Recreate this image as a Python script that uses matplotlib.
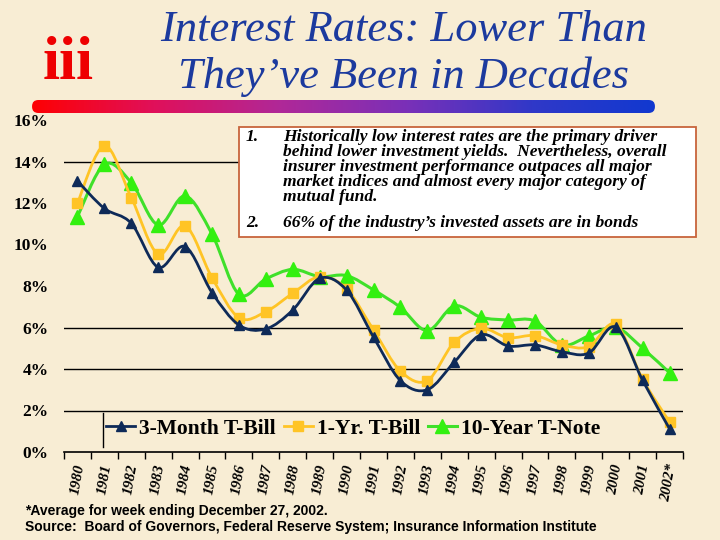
import numpy as np
import matplotlib
matplotlib.use("Agg")
import matplotlib.pyplot as plt
from matplotlib.path import Path
from matplotlib.patches import PathPatch, FancyBboxPatch, Rectangle
from matplotlib.lines import Line2D
from matplotlib.colors import LinearSegmentedColormap

years = ["1980", "1981", "1982", "1983", "1984", "1985", "1986", "1987", "1988",
         "1989", "1990", "1991", "1992", "1993", "1994", "1995", "1996", "1997",
         "1998", "1999", "2000", "2001", "2002*"]

t_bill_3m = [13.06, 11.74, 11.02, 8.90, 9.90, 7.68, 6.12, 5.93, 6.84, 8.37, 7.80,
             5.54, 3.44, 3.00, 4.33, 5.65, 5.11, 5.16, 4.83, 4.77, 6.02, 3.45, 1.12]
t_bill_1y = [12.00, 14.76, 12.26, 9.54, 10.90, 8.40, 6.47, 6.76, 7.65, 8.45, 7.86,
             5.88, 3.90, 3.44, 5.29, 5.96, 5.51, 5.61, 5.16, 5.08, 6.15, 3.50, 1.45]
t_note_10y = [11.34, 13.86, 12.98, 10.94, 12.34, 10.50, 7.60, 8.34, 8.80, 8.45, 8.50,
              7.81, 6.97, 5.85, 7.04, 6.49, 6.36, 6.31, 5.16, 5.59, 6.01, 5.00, 3.82]

series_names = ["3-Month T-Bill", "1-Yr. T-Bill", "10-Year T-Note"]
y_ticks = [0, 2, 4, 6, 8, 10, 12, 14, 16]
grid_levels = [2, 4, 6, 14]

note_lines_1 = ["Historically low interest rates are the primary driver",
                "behind lower investment yields.  Nevertheless, overall",
                "insurer investment performance outpaces all major",
                "market indices and almost every major category of",
                "mutual fund."]
note_line_2 = "66% of the industry\u2019s invested assets are in bonds"

BG = "#F8EDD4"
NAVY = "#0E2A58"
GOLD = "#FFC425"
GREEN = "#3FE02A"
GREEN_M = "#33F010"

fig = plt.figure(figsize=(7.2, 5.4), dpi=100, facecolor=BG)

W, H = 720.0, 540.0
def fx(px):
    return px / W
def fy(py):
    return 1 - py / H

ax = fig.add_axes([fx(64), fy(452), fx(683) - fx(64), fy(120) - fy(452)])
ax.set_facecolor("none")
ax.set_xlim(-0.5, len(years) - 0.5)
ax.set_ylim(0, 16)

for g in grid_levels:
    ax.axhline(g, color="black", lw=1.0, zorder=1)

def smooth_path(xs, ys):
    pts = np.column_stack([xs, ys]).astype(float)
    n = len(pts)
    verts = [pts[0]]
    codes = [Path.MOVETO]
    for i in range(n - 1):
        p0 = pts[i - 1] if i > 0 else pts[i]
        p1 = pts[i]
        p2 = pts[i + 1]
        p3 = pts[i + 2] if i + 2 < n else pts[i + 1]
        c1 = p1 + (p2 - p0) / 6.0
        c2 = p2 - (p3 - p1) / 6.0
        verts += [c1, c2, p2]
        codes += [Path.CURVE4] * 3
    return Path(verts, codes)

x = np.arange(len(years))
specs = [
    (t_bill_3m, NAVY, NAVY, "^", 7, 2.0, 5),
    (t_bill_1y, GOLD, GOLD, "s", 7, 2.0, 4),
    (t_note_10y, GREEN, GREEN_M, "^", 10, 2.2, 3),
]
handles = []
for (vals, lc, mc, mk, ms, lw, z), name in zip(specs, series_names):
    patch = PathPatch(smooth_path(x, vals), facecolor="none", edgecolor=lc,
                      lw=lw, transform=ax.transData, zorder=z)
    ax.add_patch(patch)
    ax.plot(x, vals, linestyle="none", marker=mk, ms=ms, color=mc,
            markeredgecolor=mc, zorder=z + 0.5)
    handles.append(Line2D([0], [0], color=lc, lw=lw, marker=mk, ms=ms,
                          markerfacecolor=mc, markeredgecolor=mc))

# axes styling
for s in ["top", "right", "left"]:
    ax.spines[s].set_visible(False)
ax.spines["bottom"].set_color("black")
ax.spines["bottom"].set_linewidth(1.2)
ax.set_yticks(y_ticks)
ax.set_yticklabels([f"{v}%" for v in y_ticks], fontfamily="Liberation Serif",
                   fontweight="bold", fontsize=12.5)
ax.tick_params(axis="y", length=0, pad=11)
ax.set_xticks(list(x - 0.5) + [len(years) - 0.5])
ax.set_xticklabels([""] * (len(years) + 1))
ax.tick_params(axis="x", length=5, width=1, direction="out", color="black")
ax.set_xticks(x, minor=True)
ax.set_xticklabels(years, minor=True, rotation=80, fontfamily="Liberation Serif",
                   fontstyle="italic", fontweight="bold", fontsize=11)
ax.tick_params(axis="x", which="minor", length=0, pad=8)
for lab in ax.get_xticklabels(minor=True):
    lab.set_horizontalalignment("center")
    lab.set_verticalalignment("top")

# legend
leg = fig.legend(handles, series_names, loc="center left",
                 bbox_to_anchor=(fx(106), fy(429)), ncol=3, frameon=False,
                 handlelength=1.35, handletextpad=0.2, columnspacing=0.35,
                 borderpad=0, borderaxespad=0,
                 prop={"family": "Liberation Serif", "weight": "bold", "size": 15.5})
fig.add_artist(Line2D([fx(103), fx(103)], [fy(413), fy(447)], color="black", lw=1.0))

# note box
fig.add_artist(Rectangle((fx(239), fy(237)), fx(696) - fx(239), fy(127) - fy(237),
                         facecolor="white", edgecolor="#C8643C", lw=1.3,
                         transform=fig.transFigure, zorder=5))
note_font = dict(family="Liberation Serif", style="italic", weight="bold",
                 fontsize=12.6, color="black", zorder=6)
fig.text(fx(246), fy(129), "1.", va="top", ha="left", **note_font)
fig.text(fx(283), fy(129), "\n".join(note_lines_1), va="top", ha="left",
         linespacing=0.92, **note_font)
fig.text(fx(246), fy(223), "2.", va="center", ha="left", **note_font)
fig.text(fx(283), fy(223), note_line_2, va="center", ha="left", **note_font)

# title
title_font = dict(family="Liberation Serif", style="italic", fontsize=32,
                  color="#1C3A9E", ha="center", va="center")
fig.text(fx(404), fy(30), "Interest Rates: Lower Than", **title_font)
fig.text(fx(404), fy(77), "They\u2019ve Been in Decades", **title_font)

# logo
fig.text(fx(68), fy(64), "iii", family="Liberation Serif", weight="bold",
         fontsize=44, color="#EE0000", ha="center", va="center")

# gradient bar
bar_ax = fig.add_axes([fx(27), fy(113), fx(660) - fx(27), fy(100) - fy(113)])
bar_ax.axis("off")
cmap = LinearSegmentedColormap.from_list("bar", ["#FF0000", "#E0105A", "#B02898", "#7A30B8", "#3038C8", "#1038D0"])
grad = np.linspace(0, 1, 512).reshape(1, -1)
im = bar_ax.imshow(grad, aspect="auto", cmap=cmap, extent=[0, 1, 0, 1])
bar_ax.set_xlim(0, 1)
bar_ax.set_ylim(0, 1)
clip = FancyBboxPatch((0.008, 0.0), 0.984, 1.0,
                      boxstyle="round,pad=0,rounding_size=0.01",
                      transform=bar_ax.transData, facecolor="none", edgecolor="none",
                      mutation_aspect=48)
bar_ax.add_patch(clip)
im.set_clip_path(clip)

# footnotes
foot = dict(family="Liberation Sans", weight="bold", fontsize=10, color="black",
            ha="left", va="center")
fig.text(fx(25), fy(511), "*Average for week ending December 27, 2002.", **foot)
fig.text(fx(25), fy(527), "Source:  Board of Governors, Federal Reserve System; Insurance Information Institute", **foot)

fig.savefig("out.png", dpi=100, facecolor=BG)
